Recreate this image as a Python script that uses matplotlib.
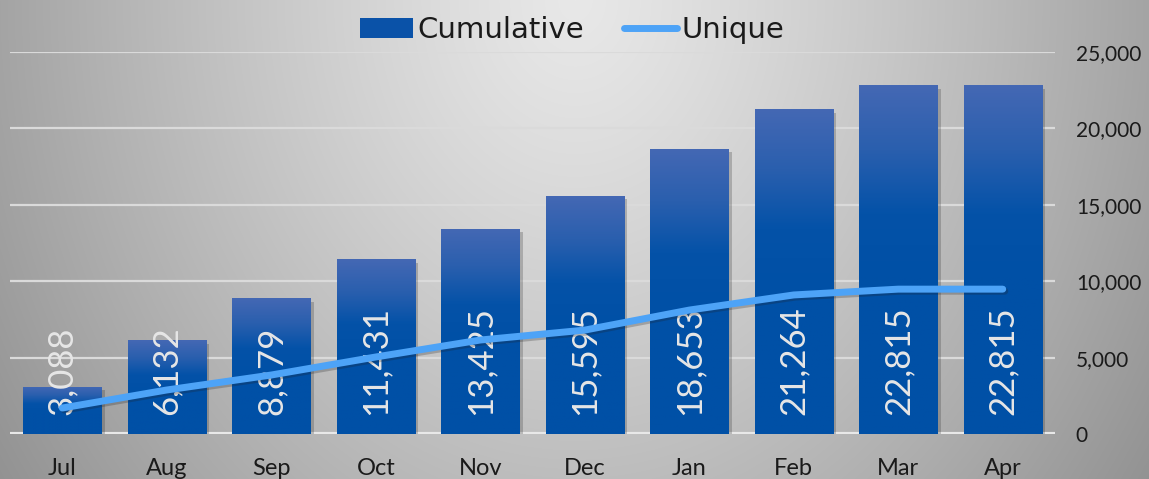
import numpy as np
import matplotlib
matplotlib.use("Agg")
import matplotlib.pyplot as plt
from matplotlib.colors import LinearSegmentedColormap
from matplotlib.ticker import FuncFormatter, MultipleLocator
from matplotlib import patheffects as pe
from matplotlib.patches import Patch
from matplotlib.lines import Line2D

months = ["Jul", "Aug", "Sep", "Oct", "Nov", "Dec", "Jan", "Feb", "Mar", "Apr"]
cumulative = [3088, 6132, 8879, 11431, 13425, 15595, 18653, 21264, 22815, 22815]
unique = [1700, 2880, 3860, 5040, 6150, 6800, 8110, 9100, 9480, 9480]

FONT = "Lato"
plt.rcParams["font.family"] = [FONT, "DejaVu Sans"]

W, H = 1149, 479
fig = plt.figure(figsize=(W / 100, H / 100), dpi=100)

# radial background gradient
bg = fig.add_axes([0, 0, 1, 1], zorder=-10)
yy, xx = np.mgrid[0:H, 0:W]
d = np.sqrt(((xx - 575) / 575.0) ** 2 + ((yy - 0) / 700.0) ** 2)
v = np.clip(232 - 68 * d ** 1.2, 140, 240) / 255.0
bg.imshow(np.dstack([v, v, v]), aspect="auto", extent=[0, W, H, 0])
bg.set_axis_off()

ax = fig.add_axes([10 / W, 45 / H, 1045 / W, 382 / H])
ax.patch.set_alpha(0)
x = np.arange(len(months))
bar_w = 0.75
bars = ax.bar(x, cumulative, width=bar_w, color="#0a52a8", zorder=2,
              path_effects=[pe.SimplePatchShadow(offset=(2.5, -2.5), alpha=0.25, shadow_rgbFace="#303030"),
                            pe.Normal()])

cmap = LinearSegmentedColormap.from_list("barg", ["#0050a6", "#0452a8", "#2a5fae", "#4468b4"])
grad = np.linspace(0, 1, 256).reshape(-1, 1)
grad = np.clip((grad - 0.45) / 0.55, 0, 1)
for b in bars:
    x0 = b.get_x()
    h = b.get_height()
    im = ax.imshow(grad, cmap=cmap, aspect="auto", origin="lower",
                   extent=[x0, x0 + b.get_width(), 0, h], zorder=3, vmin=0, vmax=1)
    im.set_clip_path(b)

ax.set_xlim(-0.5, len(months) - 0.5)
ax.set_ylim(0, 25000)

for xi, val in zip(x, cumulative):
    ax.annotate(f"{val:,}", (xi, 0), xytext=(0, 14), textcoords="offset points",
                rotation=90, ha="center", va="bottom", color="#e6e6e6",
                fontsize=25, zorder=5)

ax.plot(x, unique, color="#4da3f7", lw=5, solid_capstyle="round",
        solid_joinstyle="round", zorder=6,
        path_effects=[pe.SimpleLineShadow(offset=(1.5, -1.5), alpha=0.25, shadow_color="#202020"), pe.Normal()])

ax.yaxis.set_major_locator(MultipleLocator(5000))
ax.yaxis.tick_right()
ax.yaxis.set_major_formatter(FuncFormatter(lambda v, p: f"{int(v):,}"))
ax.tick_params(axis="y", length=0, pad=15, labelsize=15, labelcolor="#1a1a1a")
ax.set_xticks(x)
ax.set_xticklabels(months)
ax.tick_params(axis="x", length=0, pad=17, labelsize=17, labelcolor="#1a1a1a")
for lab in ax.get_yticklabels():
    lab.set_ha("left")

ax.grid(axis="y", color="#dadada", lw=1.6, zorder=1)
ax.set_axisbelow(True)
for s in ax.spines.values():
    s.set_visible(False)
ax.axhline(0, color="#e8e8e8", lw=3, zorder=1)

handles = [Patch(facecolor="#0a52a8", edgecolor="none"),
           Line2D([0], [0], color="#4da3f7", lw=5, solid_capstyle="round")]
leg = fig.legend(handles, ["Cumulative", "Unique"], loc="center", bbox_to_anchor=(572 / W, 1 - 30 / H),
                 ncol=2, frameon=False, prop={"family": ["DejaVu Sans"], "size": 21},
                 handlelength=1.8, handleheight=0.7,
                 handletextpad=0.15, columnspacing=1.4)
for t in leg.get_texts():
    t.set_color("#1a1a1a")

fig.savefig("out.png", dpi=100)
